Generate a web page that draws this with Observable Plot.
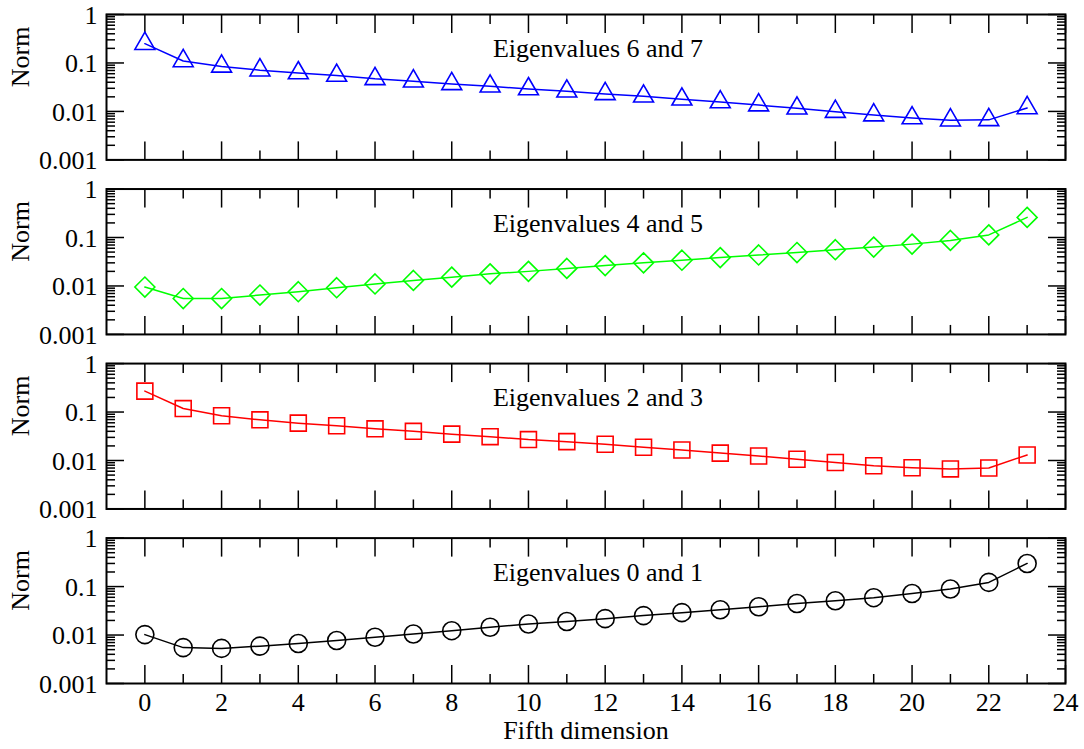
<!DOCTYPE html>
<html>
<head>
<meta charset="utf-8">
<script src="https://cdn.jsdelivr.net/npm/d3@7"></script>
<script src="https://cdn.jsdelivr.net/npm/@observablehq/plot@0.6"></script>
<style>
  html, body { margin: 0; padding: 0; background: #fff; overflow: hidden; }
  #chart svg { display: block; }
</style>
</head>
<body>
<div id="chart"></div>
<script>
// ---- data ----
const fifthDimension = [0, 1, 2, 3, 4, 5, 6, 7, 8, 9, 10, 11, 12, 13, 14, 15, 16, 17, 18, 19, 20, 21, 22, 23];
const panelLabels = ["Eigenvalues 6 and 7", "Eigenvalues 4 and 5", "Eigenvalues 2 and 3", "Eigenvalues 0 and 1"];
const norm67 = [0.25, 0.11, 0.085, 0.071, 0.062, 0.055, 0.047, 0.042, 0.037, 0.033, 0.029, 0.026, 0.023, 0.0205, 0.0178, 0.0156, 0.0135, 0.0116, 0.0099, 0.0084, 0.0073, 0.0066, 0.0067, 0.0118];
const norm45 = [0.0095, 0.0055, 0.0055, 0.0065, 0.0076, 0.0092, 0.011, 0.013, 0.0152, 0.0178, 0.020, 0.023, 0.0263, 0.030, 0.034, 0.0385, 0.0436, 0.049, 0.056, 0.0635, 0.073, 0.087, 0.113, 0.26];
const norm23 = [0.27, 0.118, 0.084, 0.069, 0.059, 0.052, 0.045, 0.040, 0.035, 0.031, 0.027, 0.0245, 0.0216, 0.0188, 0.0165, 0.0142, 0.0124, 0.0106, 0.0091, 0.0078, 0.0071, 0.0067, 0.0070, 0.013];
const norm01 = [0.0102, 0.0055, 0.0053, 0.0059, 0.0067, 0.0077, 0.009, 0.0105, 0.0123, 0.0145, 0.0169, 0.019, 0.0218, 0.0252, 0.029, 0.0333, 0.0384, 0.0447, 0.051, 0.059, 0.072, 0.089, 0.122, 0.3];
const xMajorTicks = [0, 2, 4, 6, 8, 10, 12, 14, 16, 18, 20, 22, 24];
const xTickLabels = ["0", "2", "4", "6", "8", "10", "12", "14", "16", "18", "20", "22", "24"];
const xMinorTicks = [1, 3, 5, 7, 9, 11, 13, 15, 17, 19, 21, 23];
const yMajorTicks = [0.001, 0.01, 0.1, 1];
const yTickLabels = ["0.001", "0.01", "0.1", "1"];
const yMinorTicks = [0.002, 0.003, 0.004, 0.005, 0.006, 0.007, 0.008, 0.009,
                     0.02, 0.03, 0.04, 0.05, 0.06, 0.07, 0.08, 0.09,
                     0.2, 0.3, 0.4, 0.5, 0.6, 0.7, 0.8, 0.9];
const xTitle = "Fifth dimension";
const yTitle = "Norm";

// ---- styles ----
const seriesValues = [norm67, norm45, norm23, norm01];
const seriesColors = ["#0000ff", "#00ff00", "#ff0000", "#000000"];
const seriesSymbols = ["triangle", "diamond2", "square", "circle"];
const symbolRadius = [7.4, 9, 9, 9];

const seriesMarks = seriesValues.flatMap((vals, i) => {
  const rows = fifthDimension.map((x, j) => ({panel: panelLabels[i], x, norm: vals[j]}));
  return [
    Plot.line(rows, {x: "x", y: "norm", fy: "panel", stroke: seriesColors[i], strokeWidth: 1.5}),
    Plot.dot(rows, {x: "x", y: "norm", fy: "panel", stroke: seriesColors[i], fill: "none",
                    symbol: seriesSymbols[i], r: symbolRadius[i], strokeWidth: 1.6})
  ];
});

const tk = {facetAnchor: null, fill: "none", label: null, strokeWidth: 1.5};

const chart = Plot.plot({
  width: 1084,
  height: 749,
  marginTop: 14,
  marginLeft: 106,
  marginRight: 19,
  marginBottom: 66,
  style: {fontFamily: "'Liberation Serif', 'Times New Roman', serif", fontSize: "26px", background: "#fff", color: "#000"},
  x: {type: "linear", domain: [-1, 24]},
  y: {type: "log", domain: [0.001, 1]},
  fy: {domain: panelLabels, axis: null, paddingInner: 0.167, paddingOuter: 0, round: false},
  marks: [
    // inward ticks on all four sides, every panel
    Plot.axisX({...tk, ticks: xMajorTicks, anchor: "bottom", tickSize: 18, dy: -18}),
    Plot.axisX({...tk, ticks: xMinorTicks, anchor: "bottom", tickSize: 9, dy: -9}),
    Plot.axisX({...tk, ticks: xMajorTicks, anchor: "top", tickSize: 18, dy: 18}),
    Plot.axisX({...tk, ticks: xMinorTicks, anchor: "top", tickSize: 9, dy: 9}),
    Plot.axisY({...tk, ticks: yMajorTicks, anchor: "left", tickSize: 18, dx: 18}),
    Plot.axisY({...tk, ticks: yMinorTicks, anchor: "left", tickSize: 9, dx: 9}),
    Plot.axisY({...tk, ticks: yMajorTicks, anchor: "right", tickSize: 18, dx: -18}),
    Plot.axisY({...tk, ticks: yMinorTicks, anchor: "right", tickSize: 9, dx: -9}),
    // tick labels
    Plot.axisY({ticks: yMajorTicks, anchor: "left", tickSize: 0, tickPadding: 9, facetAnchor: null, dy: 1,
                tickFormat: d => yTickLabels[yMajorTicks.indexOf(d)], label: null}),
    Plot.axisX({ticks: xMajorTicks, anchor: "bottom", tickSize: 0, tickPadding: 9,
                tickFormat: d => xTickLabels[xMajorTicks.indexOf(d)],
                label: xTitle, labelAnchor: "center", labelOffset: 55, labelArrow: "none"}),
    // y titles per panel
    Plot.text(panelLabels, {fy: d => d, text: () => yTitle, frameAnchor: "left", rotate: -90,
                            dx: -86, lineAnchor: "middle"}),
    // panel annotations
    Plot.text(panelLabels, {fy: d => d, text: d => d, frameAnchor: "top", dx: 12, dy: 24, lineAnchor: "top"}),
    ...seriesMarks,
    Plot.frame({stroke: "#000", strokeWidth: 2})
  ]
});
document.getElementById("chart").appendChild(chart);
</script>
</body>
</html>
